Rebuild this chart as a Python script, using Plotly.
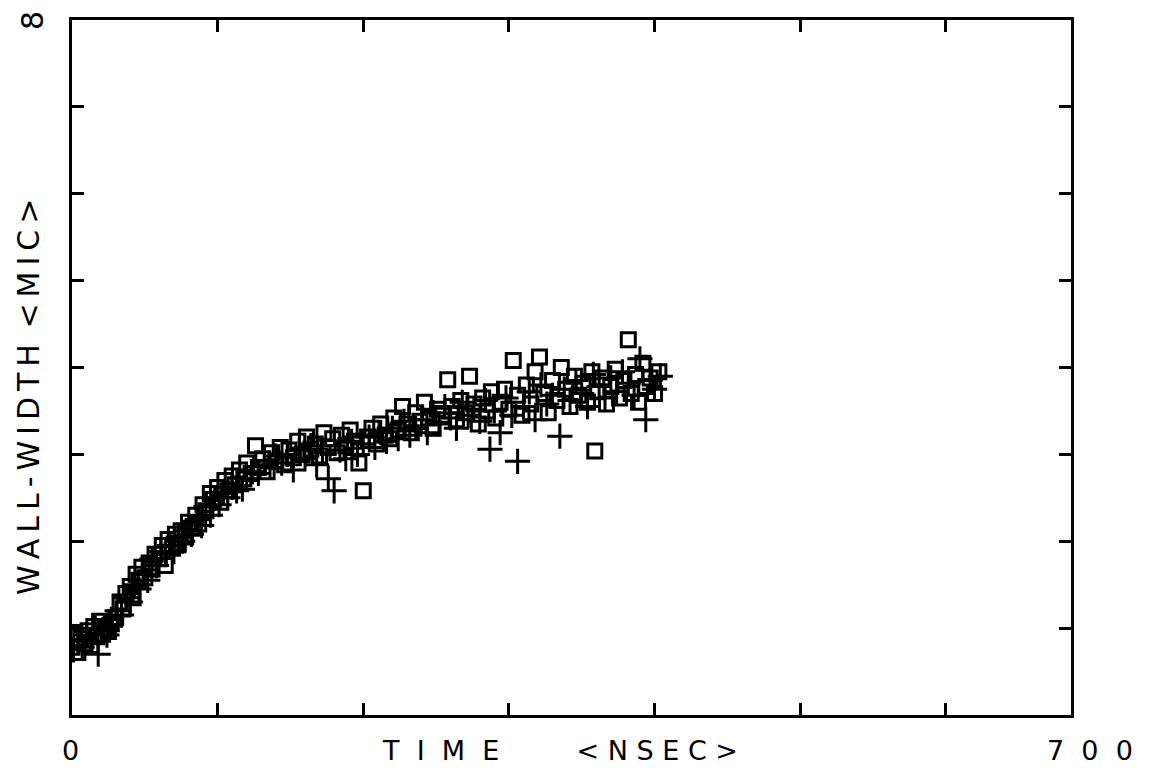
import plotly.graph_objects as go

# Square-marker series (time in ns, wall width in microns)
sq_x = [0, 2, 4, 6, 9, 11, 13, 15, 17, 19, 21, 23, 25, 27, 30, 33, 35, 37, 40, 42,
        44, 46, 48, 50, 53, 55, 57, 60, 62, 64, 66, 69, 71, 73, 75, 78, 80, 82, 85, 87,
        90, 92, 95, 97, 100, 102, 105, 107, 110, 112, 115, 118, 120, 123, 126, 128, 131, 134, 137, 140,
        143, 146, 149, 152, 155, 158, 161, 164, 167, 170, 173, 176, 179, 182, 185, 188, 191, 194, 197, 200,
        203, 206, 209, 212, 215, 218, 221, 224, 227, 230, 233, 236, 239, 242, 245, 248, 251, 254, 258, 261,
        264, 267, 270, 273, 276, 279, 282, 285, 288, 291, 294, 297, 300, 303, 306, 309, 312, 315, 318, 321,
        324, 327, 330, 333, 336, 339, 342, 345, 348, 351, 354, 357, 359, 361, 364, 367, 370, 373, 376, 379,
        382, 384, 387, 389, 392, 394, 397, 400, 403]
sq_y = [0.78, 0.95, 0.72, 0.88, 0.82, 0.97, 0.80, 1.02, 0.90, 1.08, 0.93, 1.00, 0.96, 1.05, 1.12, 1.30, 1.22, 1.40, 1.48, 1.35,
        1.62, 1.55, 1.70, 1.58, 1.75, 1.68, 1.85, 1.80, 1.95, 1.72, 2.02, 1.92, 2.08, 1.98, 2.12, 2.05, 2.22, 2.15, 2.30, 2.20,
        2.42, 2.35, 2.55, 2.48, 2.62, 2.45, 2.70, 2.58, 2.75, 2.65, 2.82, 2.72, 2.90, 2.78, 3.10, 2.85, 2.95, 2.80, 3.02, 2.92,
        3.08, 2.88, 3.05, 2.96, 3.15, 3.00, 3.20, 3.06, 3.12, 2.98, 3.25, 3.08, 3.18, 3.02, 3.22, 3.10, 3.28, 3.15, 2.90, 2.58,
        3.20, 3.30, 3.12, 3.35, 3.22, 3.18, 3.42, 3.28, 3.55, 3.35, 3.25, 3.48, 3.38, 3.60, 3.42, 3.30, 3.52, 3.45, 3.86, 3.55,
        3.40, 3.62, 3.48, 3.90, 3.58, 3.35, 3.65, 3.50, 3.72, 3.42, 3.60, 3.75, 3.52, 4.08, 3.68, 3.45, 3.80, 3.58, 3.95, 4.12,
        3.70, 3.48, 3.85, 3.62, 4.00, 3.75, 3.55, 3.90, 3.68, 3.82, 3.60, 3.95, 3.04, 3.72, 3.88, 3.58, 3.78, 3.98, 3.65, 3.85,
        4.32, 3.70, 3.92, 3.60, 4.05, 3.78, 3.88, 3.70, 3.95]

# Plus-marker series
pl_x = [1, 4, 7, 10, 13, 16, 18, 21, 24, 27, 31, 34, 37, 40, 43, 46, 49, 52, 55, 58,
        61, 64, 67, 70, 73, 76, 79, 82, 86, 89, 92, 95, 98, 101, 104, 107, 110, 113, 117, 120,
        124, 128, 132, 136, 140, 144, 148, 152, 156, 160, 164, 168, 172, 176, 180, 184, 188, 192, 196, 200,
        204, 208, 212, 216, 220, 224, 228, 232, 236, 240, 244, 248, 252, 256, 260, 264, 268, 272, 276, 280,
        284, 287, 290, 294, 298, 302, 306, 310, 314, 318, 322, 326, 330, 335, 338, 342, 346, 350, 354, 358,
        362, 366, 370, 374, 378, 382, 386, 390, 394, 397, 400, 404]
pl_y = [0.75, 0.85, 0.78, 0.92, 0.85, 1.00, 0.70, 0.98, 0.92, 1.10, 1.20, 1.15, 1.35, 1.30, 1.50, 1.45, 1.62, 1.55, 1.80, 1.72,
        1.88, 1.85, 1.95, 1.88, 2.05, 2.00, 2.12, 2.08, 2.25, 2.18, 2.40, 2.30, 2.50, 2.42, 2.55, 2.50, 2.62, 2.58, 2.60, 2.72,
        2.80, 2.78, 2.92, 2.85, 2.98, 2.90, 3.00, 2.82, 3.05, 2.95, 3.10, 2.88, 3.02, 2.72, 2.58, 3.05, 2.95, 3.15, 3.00, 3.12,
        3.20, 3.08, 3.25, 3.15, 3.30, 3.18, 3.38, 3.22, 3.30, 3.40, 3.25, 3.48, 3.35, 3.55, 3.42, 3.30, 3.60, 3.45, 3.52, 3.38,
        3.62, 3.06, 3.50, 3.25, 3.65, 3.45, 2.92, 3.55, 3.72, 3.40, 3.80, 3.58, 3.68, 3.21, 3.75, 3.62, 3.85, 3.70, 3.55, 3.92,
        3.78, 3.65, 3.88, 3.72, 3.95, 3.82, 3.68, 4.10, 3.40, 3.85, 3.75, 3.90]

x_ticks = [100, 200, 300, 400, 500, 600]
y_ticks = [1, 2, 3, 4, 5, 6, 7]

NB = "\u00a0"
TH = "\u2009"
x_title = (NB * 2).join("TIME") + NB * 9 + NB.join("<NSEC>")
y_title = TH.join("WALL-WIDTH") + NB + TH + TH.join("<MIC>")
x_min_label = "0"
x_max_label = (NB * 2).join("700")
y_max_label = "8"

fig = go.Figure()
fig.add_trace(go.Scatter(
    x=sq_x, y=sq_y, mode="markers",
    marker=dict(symbol="square-open", size=14, color="black", line=dict(width=3, color="black")),
    showlegend=False))
fig.add_trace(go.Scatter(
    x=pl_x, y=pl_y, mode="markers",
    marker=dict(symbol="cross-thin-open", size=18, color="black", line=dict(width=3, color="black")),
    showlegend=False))

axis_common = dict(showgrid=False, zeroline=False, showline=True, linecolor="black", linewidth=2.5,
                   mirror="ticks", ticks="inside", ticklen=12, tickwidth=2.5, tickcolor="black",
                   showticklabels=False)
fig.update_xaxes(range=[0, 686], tickvals=x_ticks, **axis_common)
fig.update_yaxes(range=[0, 8], tickvals=y_ticks, **axis_common)

font = dict(family="DejaVu Sans", size=27, color="black")
fig.update_layout(
    width=1141, height=760,
    margin=dict(l=64, r=78, t=9, b=53),
    paper_bgcolor="white", plot_bgcolor="white",
    annotations=[
        dict(text=x_title, xref="paper", yref="paper", x=0.4885, y=-0.0516, xanchor="center", yanchor="middle",
             showarrow=False, font=font),
        dict(text=x_min_label, xref="paper", yref="paper", x=-0.002, y=-0.0516, xanchor="center", yanchor="middle",
             showarrow=False, font=font),
        dict(text=x_max_label, xref="paper", yref="paper", x=1.019, y=-0.0516, xanchor="center", yanchor="middle",
             showarrow=False, font=font),
        dict(text=y_title, xref="paper", yref="paper", x=-0.0435, y=0.457, xanchor="center", yanchor="middle",
             textangle=-90, showarrow=False, font=dict(family="DejaVu Sans", size=30, color="black")),
        dict(text=y_max_label, xref="paper", yref="paper", x=-0.039, y=0.9986, xanchor="center", yanchor="middle",
             textangle=-90, showarrow=False, font=dict(family="DejaVu Sans", size=30, color="black")),
    ],
)

fig.write_html("out.html")
